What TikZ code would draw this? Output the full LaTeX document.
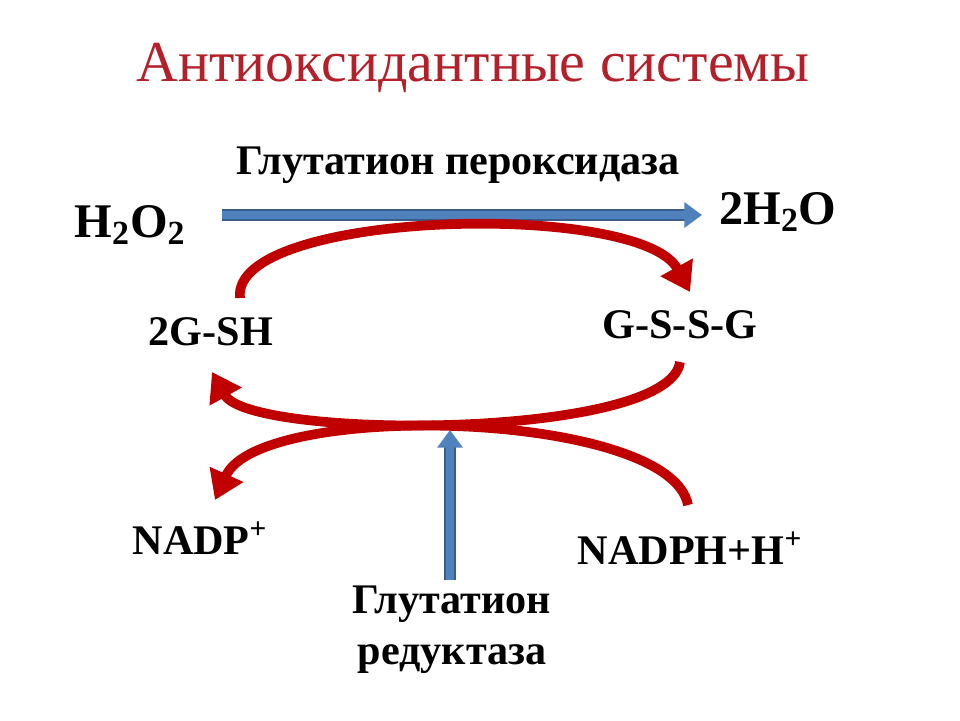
\documentclass[tikz,border=0pt]{standalone}
\usepackage{fontspec}
\setmainfont{Liberation Serif}
\usetikzlibrary{arrows.meta}
\definecolor{tred}{HTML}{B3202A}
\definecolor{ared}{HTML}{C00000}
\definecolor{ablue}{HTML}{4F81BD}
\definecolor{ablueD}{HTML}{385D8A}
\begin{document}
\begin{tikzpicture}[x=0.02cm,y=-0.02cm,
  lab/.style={font=\fontsize{24}{29}\selectfont\bfseries},
  big/.style={font=\fontsize{27.5}{32}\selectfont\bfseries},
  redarr/.style={draw=ared,line width=5.5pt,-{Triangle[length=16pt,width=20pt]}}]
\useasboundingbox (0,0) rectangle (960,720);
\node[text=tred,font=\fontsize{33}{38}\selectfont] (title) at (473,68) {Антиоксидантные системы};
\node[lab] (gp) at (458,165) {Глутатион пероксидаза};
\node[big] (h2o2) at (130,225) {H\textsubscript{2}O\textsubscript{2}};
\node[big] (h2o) at (778,212) {2H\textsubscript{2}O};
\node[lab] (gsh) at (211,332) {2G-SH};
\node[lab] (gssg) at (680,325) {G-S-S-G};
\node[lab] (nadp) at (200,538) {NADP\textsuperscript{+}};
\node[lab] (nadph) at (690,548) {NADPH+H\textsuperscript{+}};
\node[lab,align=center] (gr) at (452,630) {Глутатион\\редуктаза};
\coordinate (b1) at (222,215);
\coordinate (b2) at (702,215);
\draw[draw=ablueD,line width=6.5pt] (b1) -- (690,215);
\draw[draw=ablue,line width=4.5pt,-{Triangle[length=10pt,width=14pt]}] (b1) -- (b2);
\coordinate (c1) at (450,580);
\coordinate (c2) at (450,430);
\draw[draw=ablueD,line width=6.5pt] (c1) -- (450,445);
\draw[draw=ablue,line width=4.5pt,-{Triangle[length=10pt,width=14pt]}] (c1) -- (c2);
\coordinate (u1) at (240,298);
\coordinate (u2) at (690,292);
\draw[redarr] (u1) .. controls (230,210) and (640,200) .. (u2);
\coordinate (l1) at (680,362);
\coordinate (l2) at (212,372);
\draw[redarr] (l1) .. controls (670,440) and (250,440) .. (l2);
\coordinate (m1) at (688,505);
\coordinate (m2) at (215,500);
\draw[redarr] (m1) .. controls (670,410) and (260,400) .. (m2);
\end{tikzpicture}
\end{document}
